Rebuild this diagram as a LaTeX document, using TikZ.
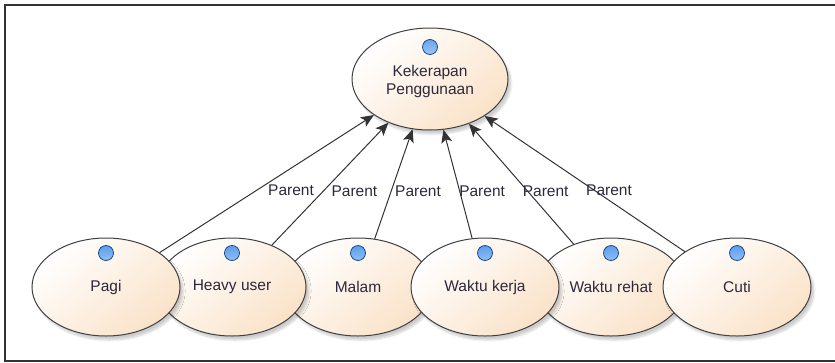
\documentclass[tikz,border=0pt]{standalone}
\usepackage{fontspec}
\setmainfont{Liberation Sans}
\usepackage{tikz}
\usetikzlibrary{positioning,shapes.geometric,arrows.meta,shadows.blur}
\definecolor{usefill}{RGB}{250,226,200}
\definecolor{usedot}{RGB}{25,110,230}
\definecolor{usetext}{RGB}{45,40,60}

\begin{document}
\begin{tikzpicture}[x=1pt,y=-1pt,
    every node/.style={font=\fontsize{15.5pt}{18pt}\selectfont,text=usetext},
    attr/.style={ellipse,draw=black!75,line width=1pt,inner sep=0pt,
      minimum width=148pt,minimum height=98pt,
      top color=white,bottom color=usefill,shading angle=40,
      blur shadow={shadow xshift=3pt,shadow yshift=-4pt,shadow opacity=20,shadow blur steps=8},
      path picture={\shade[inner color=cyan!8!white,outer color=usedot,draw=usedot!55!black,line width=0.7pt]
        ([yshift=-#1]path picture bounding box.north) circle (7.5pt);}},
    attr/.default=15pt,
    parent/.style={-{Stealth[length=13pt,width=11pt,inset=3pt]},draw=black!80,line width=1pt},
    lbl/.style={anchor=north west,inner sep=1pt}]
    \useasboundingbox (0,0) rectangle (835,362);
    \draw[line width=2.5pt,black!80] (5,5) rectangle (850,361);
    \node[attr=19pt,minimum width=156pt,minimum height=102pt,align=center] (Kekerapan) at (430,79) {\\[-2pt]Kekerapan\\Penggunaan};
    \node[attr] (Malam) at (358,287) {Malam};
    \node[attr] (Rehat) at (611,287) {Waktu rehat};
    \node[attr] (Heavy) at (232,287) {Heavy user};
    \node[attr] (Pagi) at (106,287) {Pagi};
    \node[attr] (Kerja) at (485,287) {Waktu kerja};
    \node[attr] (Cuti) at (737,287) {Cuti};
    \draw[parent] (Pagi) -- node[lbl] {Parent} (Kekerapan);
    \draw[parent] (Heavy) -- node[lbl] {Parent} (Kekerapan);
    \draw[parent] (Malam) -- node[lbl] {Parent} (Kekerapan);
    \draw[parent] (Kerja) -- node[lbl] {Parent} (Kekerapan);
    \draw[parent] (Rehat) -- node[lbl] {Parent} (Kekerapan);
    \draw[parent] (Cuti) -- node[lbl] {Parent} (Kekerapan);
  \end{tikzpicture}
\end{document}
